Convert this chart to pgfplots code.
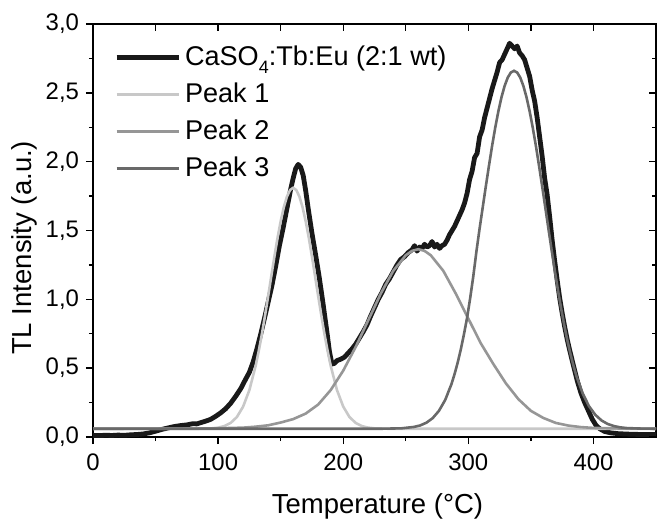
\documentclass[border=0pt]{standalone}
\usepackage{fontspec}
\setmainfont{Liberation Sans}
\usepackage{pgfplots}
\pgfplotsset{compat=1.18}

\definecolor{pkone}{RGB}{200,200,200}
\definecolor{pktwo}{RGB}{150,150,150}
\definecolor{pkthree}{RGB}{105,105,105}
\definecolor{meas}{RGB}{25,25,25}

\begin{document}
\begin{tikzpicture}
\begin{axis}[
    scale only axis,
    width=281.5bp, height=206.5bp,
    xmin=0, xmax=450, ymin=0, ymax=3,
    xtick={0,100,...,400},
    minor x tick num=1,
    ytick={0,0.5,...,3.0},
    minor y tick num=1,
    xtick pos=bottom, ytick pos=left,
    tick align=outside,
    major tick length=3.5bp, minor tick length=2bp,
    axis line style={line width=0.7bp},
    every tick/.style={black, line width=0.7bp},
    /pgf/number format/assume math mode=true,
    ticklabel style={font=\fontsize{12}{14}\selectfont},
    yticklabel style={/pgf/number format/.cd, fixed, fixed zerofill, precision=1, use comma},
    xticklabel style={yshift=-1.5bp, /pgf/number format/.cd, fixed, precision=0},
    legend style={draw=none, fill=none, at={(0.037,0.957)}, anchor=north west,
        font=\fontsize{13.6}{15}\selectfont, row sep=3.2bp, inner sep=0pt},
    legend cell align=left,
    legend image code/.code={\draw[#1] (0bp,0bp) -- (31bp,0bp);},
]
\coordinate (sw) at (rel axis cs:0,0);
\coordinate (ne) at (rel axis cs:1,1);
\coordinate (bc) at (rel axis cs:0.5,0);
\coordinate (lc) at (rel axis cs:0,0.458);

\addplot[meas, line width=2.4bp, line join=round] coordinates {
(0,0.012) (5,0.010) (10,0.013) (15,0.011) (20,0.014) (25,0.012) (30,0.016) (35,0.018)
(40,0.022) (45,0.030) (50,0.042) (55,0.055) (60,0.066) (65,0.076) (70,0.083) (75,0.088)
(80,0.097) (83,0.095) (86,0.104) (90,0.115) (94,0.128) (98,0.150) (102,0.175) (106,0.205)
(110,0.245) (114,0.295) (118,0.350) (122,0.420) (125,0.470) (128,0.545) (131,0.640) (134,0.745)
(137,0.860) (140,0.980) (143,1.100) (146,1.240) (149,1.390) (152,1.520) (155,1.660) (158,1.800)
(160,1.880) (162,1.950) (164,1.980) (166,1.960) (168,1.900) (170,1.790) (172,1.660) (175,1.480)
(178,1.320) (181,1.150) (184,0.960) (187,0.760) (189,0.620) (191,0.530) (193,0.535) (195,0.555)
(198,0.565) (201,0.580) (204,0.610) (207,0.640) (210,0.675) (213,0.720) (216,0.765) (219,0.815)
(222,0.880) (225,0.940) (228,1.000) (231,1.050) (234,1.110) (237,1.150) (240,1.200) (243,1.250)
(246,1.290) (249,1.310) (252,1.340) (255,1.360) (257,1.390) (259,1.350) (261,1.380) (263,1.370)
(265,1.400) (267,1.380) (269,1.390) (271,1.420) (273,1.380) (275,1.400) (277,1.370) (279,1.390)
(281,1.400) (283,1.430) (285,1.470) (287,1.500) (289,1.530) (291,1.570) (293,1.610) (295,1.650)
(297,1.700) (299,1.770) (301,1.870) (303,1.930) (305,2.030) (307,2.060) (309,2.180) (311,2.230)
(313,2.320) (315,2.390) (317,2.460) (319,2.530) (321,2.590) (323,2.650) (325,2.720) (327,2.740)
(329,2.780) (331,2.820) (333,2.860) (335,2.840) (337,2.820) (339,2.840) (341,2.790) (343,2.770)
(345,2.740) (347,2.680) (349,2.620) (351,2.520) (353,2.440) (355,2.320) (357,2.180) (359,2.040)
(361,1.880) (363,1.760) (365,1.600) (367,1.430) (369,1.280) (371,1.140) (373,1.010) (375,0.900)
(377,0.800) (379,0.710) (381,0.630) (384,0.520) (387,0.410) (390,0.320) (393,0.250) (396,0.190)
(399,0.130) (402,0.085) (405,0.060) (409,0.040) (414,0.030) (420,0.024) (430,0.020) (440,0.018)
(450,0.017)
};
\addlegendentry{CaSO\raisebox{-0.55ex}{\fontsize{9}{9}\selectfont 4}:Tb:Eu (2:1 wt)\rule[-11.2bp]{0pt}{0pt}}

\addplot[pkone, line width=1.3bp] coordinates {
(0,0.060) (85,0.0603) (95,0.063) (100,0.068) (105,0.079) (110,0.102) (115,0.145) (120,0.221)
(125,0.341) (130,0.517) (132.5,0.626) (135,0.748) (137.5,0.882) (140,1.023) (142.5,1.168)
(145,1.311) (147.5,1.446) (150,1.567) (152.5,1.669) (155,1.746) (157.5,1.794) (160,1.810)
(162.5,1.794) (165,1.746) (167.5,1.669) (170,1.567) (172.5,1.446) (175,1.311) (177.5,1.168)
(180,1.023) (182.5,0.882) (185,0.748) (187.5,0.626) (190,0.517) (195,0.341) (200,0.221)
(205,0.145) (210,0.102) (215,0.079) (220,0.068) (225,0.063) (235,0.0603) (450,0.060)
};
\addlegendentry{Peak 1}

\addplot[pktwo, line width=1.3bp] coordinates {
(0,0.060) (80,0.061) (100,0.063) (120,0.068) (130,0.075) (140,0.085) (150,0.105) (160,0.130)
(170,0.170) (180,0.236) (190,0.341) (200,0.482) (210,0.655) (220,0.848) (230,1.041) (240,1.207)
(250,1.320) (255,1.352) (260,1.364) (265,1.352) (270,1.320) (280,1.207) (290,1.041) (300,0.860)
(310,0.680) (320,0.530) (330,0.390) (340,0.275) (350,0.190) (360,0.138) (370,0.102) (380,0.083)
(390,0.072) (400,0.066) (420,0.062) (450,0.060)
};
\addlegendentry{Peak 2}

\addplot[pkthree, line width=1.3bp] coordinates {
(0,0.060) (230,0.060) (246.5,0.063) (256.5,0.073) (261.5,0.084) (266.5,0.104) (271.5,0.137)
(276.5,0.190) (281.5,0.269) (286.5,0.384) (289,0.457) (291.5,0.541) (294,0.637) (296.5,0.746)
(299,0.866) (301.5,1.010) (304,1.170) (306.5,1.350) (309,1.514) (311.5,1.668) (314,1.822)
(316.5,1.971) (319,2.115) (321.5,2.247) (324,2.366) (326.5,2.468) (329,2.550) (331.5,2.611)
(334,2.648) (336.5,2.660) (339,2.648) (341.5,2.611) (344,2.550) (346.5,2.468) (349,2.366)
(351.5,2.247) (354,2.115) (356.5,1.971) (359,1.822) (361.5,1.668) (364,1.514) (366.5,1.362)
(369,1.214) (371.5,1.074) (374,0.942) (376.5,0.820) (379,0.708) (381.5,0.608) (384,0.519)
(386.5,0.440) (391.5,0.314) (396.5,0.223) (401.5,0.161) (406.5,0.120) (411.5,0.094)
(416.5,0.079) (421.5,0.070) (426.5,0.065) (436.5,0.0615) (450,0.060)
};
\addlegendentry{Peak 3}
\end{axis}

% inward ticks on top and right
\begin{axis}[
    scale only axis,
    width=281.5bp, height=206.5bp,
    xmin=0, xmax=450, ymin=0, ymax=3,
    xtick={0,50,...,450},
    ytick={0,0.5,...,3.0},
    minor y tick num=1,
    xtick pos=top, ytick pos=right,
    tick align=inside,
    major tick length=3.5bp, minor tick length=2bp,
    xticklabels={}, yticklabels={},
    axis line style={draw=none},
    every tick/.style={black, line width=0.7bp},
]
\end{axis}

\node[anchor=base, font=\fontsize{13.8}{16}\selectfont] at ([xshift=1.5bp, yshift=-38bp]bc) {Temperature (°C)};
\node[anchor=base, rotate=90, font=\fontsize{13.8}{16}\selectfont] at ([xshift=-30.8bp]lc) {TL Intensity (a.u.)};

\pgfresetboundingbox
\path ([shift={(-46.5bp,-41.5bp)}]sw) rectangle ([shift={(0.5bp,12bp)}]ne);
\end{tikzpicture}
\end{document}
